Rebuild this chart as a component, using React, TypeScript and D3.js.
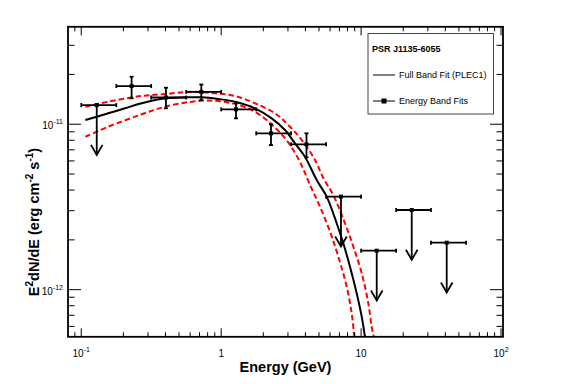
import * as d3 from 'd3'

// energy band fits (GeV, erg cm^-2 s^-1); null error => upper limit
const bandEnergy = [0.129, 0.229, 0.403, 0.721, 1.276, 2.27, 4.07, 7.18, 12.93, 23.0, 40.9]
const bandLow = [0.1, 0.178, 0.316, 0.562, 1.0, 1.78, 3.16, 5.62, 10.0, 17.8, 31.6]
const bandHigh = [0.178, 0.316, 0.562, 1.0, 1.78, 3.16, 5.62, 10.0, 17.8, 31.6, 56.2]
const bandFlux = [1.306e-11, 1.701e-11, 1.45e-11, 1.569e-11, 1.23e-11, 8.81e-12, 7.56e-12, 3.65e-12, 1.72e-12, 3.03e-12, 1.923e-12]
const bandFluxHi = [null, 1.936e-11, 1.662e-11, 1.738e-11, 1.349e-11, 9.99e-12, 8.81e-12, null, null, null, null]
const bandFluxLo = [null, 1.434e-11, 1.248e-11, 1.4e-11, 1.085e-11, 7.48e-12, 6.31e-12, null, null, null, null]

// full band fit (PLEC1)
const fitEnergy = [0.107, 0.156, 0.2053, 0.27, 0.3965, 0.551, 0.7255, 0.953, 1.255, 1.745, 2.296, 2.858, 3.37, 3.97, 4.815, 5.675, 6.69, 7.46, 8.33, 9.3, 10.1, 10.66, 10.93]
const fitFlux = [1.06e-11, 1.164e-11, 1.248e-11, 1.338e-11, 1.434e-11, 1.454e-11, 1.454e-11, 1.42e-11, 1.368e-11, 1.248e-11, 1.085e-11, 9.23e-12, 7.66e-12, 6.36e-12, 4.6e-12, 3.65e-12, 2.52e-12, 1.907e-12, 1.377e-12, 9.51e-13, 6.87e-13, 5.2e-13, 4.57e-13]

// 1 sigma curves
const upperEnergy = [0.107, 0.156, 0.27, 0.3965, 0.615, 0.903, 1.255, 1.745, 2.425, 3.017, 3.762, 4.684, 5.368, 6.327, 7.67, 8.8, 10.1, 11.26, 11.9, 12.37, 12.58]
const upperFlux = [1.275e-11, 1.368e-11, 1.481e-11, 1.522e-11, 1.571e-11, 1.537e-11, 1.481e-11, 1.338e-11, 1.164e-11, 9.89e-12, 8.03e-12, 6.08e-12, 4.73e-12, 3.73e-12, 2.52e-12, 1.82e-12, 1.256e-12, 8.28e-13, 5.98e-13, 5.11e-13, 4.57e-13]
const lowerEnergy = [0.107, 0.156, 0.27, 0.3965, 0.615, 0.832, 1.118, 1.48, 1.894, 2.425, 3.002, 3.66, 4.313, 5.084, 5.995, 6.871, 7.89, 8.565, 8.94, 9.09]
const lowerFlux = [8.4e-12, 9.66e-12, 1.148e-11, 1.275e-11, 1.368e-11, 1.39e-11, 1.352e-11, 1.27e-11, 1.137e-11, 9.55e-12, 7.8e-12, 5.91e-12, 4.29e-12, 3.17e-12, 2.24e-12, 1.582e-12, 1.042e-12, 7.2e-13, 5.2e-13, 4.57e-13]

const xTickValues = [0.1, 1, 10, 100]
const xTickBase = ['10', '1', '10', '10']
const xTickExp = ['-1', '', '', '2']
const yTickValues = [1e-12, 1e-11]
const yTickExp = ['-12', '-11']

const W = 567
const H = 384
const L = 68
const R = 503
const T = 26.8
const B = 336.8

const x = d3.scaleLog().domain([0.0804, 103.3]).range([L, R])
const y = d3.scaleLog().domain([5.19e-13, 3.88e-11]).range([B, T])

const font = "'Liberation Sans', Arial, Helvetica, sans-serif"

function zip(a: number[], b: number[]): [number, number][] {
  return a.map((v, i) => [v, b[i]])
}

export default function App() {
  const line = d3
    .line<[number, number]>()
    .x((d) => x(d[0]))
    .y((d) => y(d[1]))
    .curve(d3.curveCatmullRom.alpha(0.5))

  const isMajor = (v: number) => Math.abs(Math.log10(v) - Math.round(Math.log10(v))) < 1e-6
  const xMinor = x.ticks().filter((v) => v >= x.domain()[0] && v <= x.domain()[1])
  const yMinor = y.ticks().filter((v) => v >= y.domain()[0] && v <= y.domain()[1])

  return (
    <svg
      width={W}
      height={H}
      style={{ position: 'absolute', left: 0, top: 0, background: '#fff' }}
      fontFamily={font}
    >
      <defs>
        <clipPath id="plot">
          <rect x={L} y={T} width={R - L} height={B - T} />
        </clipPath>
      </defs>

      <g clipPath="url(#plot)" fill="none">
        <path d={line(zip(upperEnergy, upperFlux)) ?? ''} stroke="#ff0000" strokeWidth={2} strokeDasharray="5.5 3" />
        <path d={line(zip(lowerEnergy, lowerFlux)) ?? ''} stroke="#ff0000" strokeWidth={2} strokeDasharray="5.5 3" />
        <path d={line(zip(fitEnergy, fitFlux)) ?? ''} stroke="#000" strokeWidth={2} />
      </g>

      {bandEnergy.map((e, i) => {
        const cx = x(e)
        const cy = y(bandFlux[i])
        const hi = bandFluxHi[i]
        const lo = bandFluxLo[i]
        const x0 = x(bandLow[i])
        const x1 = x(bandHigh[i])
        return (
          <g key={i} stroke="#000" strokeWidth={1.8} fill="none">
            <line x1={x0} x2={x1} y1={cy} y2={cy} />
            <line x1={x0} x2={x0} y1={cy - 2} y2={cy + 2} />
            <line x1={x1} x2={x1} y1={cy - 2} y2={cy + 2} />
            {hi != null && lo != null ? (
              <>
                <line x1={cx} x2={cx} y1={y(hi)} y2={y(lo)} />
                <line x1={cx - 2} x2={cx + 2} y1={y(hi)} y2={y(hi)} />
                <line x1={cx - 2} x2={cx + 2} y1={y(lo)} y2={y(lo)} />
              </>
            ) : (
              <>
                <line x1={cx} x2={cx} y1={cy} y2={y(bandFlux[i] / 2)} />
                <path
                  d={`M${cx - 5.8},${y(bandFlux[i] / 2) - 10}L${cx},${y(bandFlux[i] / 2)}L${cx + 5.8},${y(bandFlux[i] / 2) - 10}`}
                />
              </>
            )}
            <rect x={cx - 2} y={cy - 2} width={4} height={4} fill="#000" stroke="none" />
          </g>
        )
      })}

      {/* frame and ticks */}
      <g stroke="#000" strokeWidth={1}>
        {xMinor.map((v) => {
          const len = isMajor(v) ? 8.5 : 4.5
          return (
            <g key={`x${v}`}>
              <line x1={x(v)} x2={x(v)} y1={B} y2={B - len} />
              <line x1={x(v)} x2={x(v)} y1={T} y2={T + len} />
            </g>
          )
        })}
        {yMinor.map((v) => {
          const len = isMajor(v) ? 13 : 6.5
          return (
            <g key={`y${v}`}>
              <line x1={L} x2={L + len} y1={y(v)} y2={y(v)} />
              <line x1={R} x2={R - len} y1={y(v)} y2={y(v)} />
            </g>
          )
        })}
      </g>
      <rect x={L} y={T} width={R - L} height={B - T} fill="none" stroke="#000" strokeWidth={1.8} />

      {xTickValues.map((v, i) => (
        <text key={v} x={x(v)} y={357} textAnchor="middle" fontSize={10}>
          {xTickBase[i]}
          {xTickExp[i] && (
            <tspan dy={-5} fontSize={7}>
              {xTickExp[i]}
            </tspan>
          )}
        </text>
      ))}
      {yTickValues.map((v, i) => (
        <text key={v} x={63} y={y(v) + 5} textAnchor="end" fontSize={10}>
          10
          <tspan dy={-5} fontSize={7}>
            {yTickExp[i]}
          </tspan>
        </text>
      ))}

      <text x={(L + R) / 2} y={372} textAnchor="middle" fontSize={14.5} fontWeight="bold">
        Energy (GeV)
      </text>
      <text transform="translate(39,222) rotate(-90)" textAnchor="middle" fontSize={14.5} fontWeight="bold">
        E
        <tspan dy={-6} fontSize={10}>2</tspan>
        <tspan dy={6}>dN/dE (erg cm</tspan>
        <tspan dy={-6} fontSize={10}>-2</tspan>
        <tspan dy={6}> s</tspan>
        <tspan dy={-6} fontSize={10}>-1</tspan>
        <tspan dy={6}>)</tspan>
      </text>

      {/* legend */}
      <g>
        <rect x={368} y={33.5} width={125.5} height={80.5} fill="#fff" stroke="#444" strokeWidth={1} />
        <text x={372} y={51.5} fontSize={9} fontWeight="bold">
          PSR J1135-6055
        </text>
        <line x1={373} x2={395} y1={75} y2={75} stroke="#000" strokeWidth={1} />
        <text x={399} y={78.3} fontSize={9}>
          Full Band Fit (PLEC1)
        </text>
        <line x1={373} x2={395} y1={101} y2={101} stroke="#000" strokeWidth={1} />
        <rect x={381.5} y={98.5} width={5} height={5} fill="#000" />
        <text x={399} y={104.3} fontSize={9}>
          Energy Band Fits
        </text>
      </g>
    </svg>
  )
}
